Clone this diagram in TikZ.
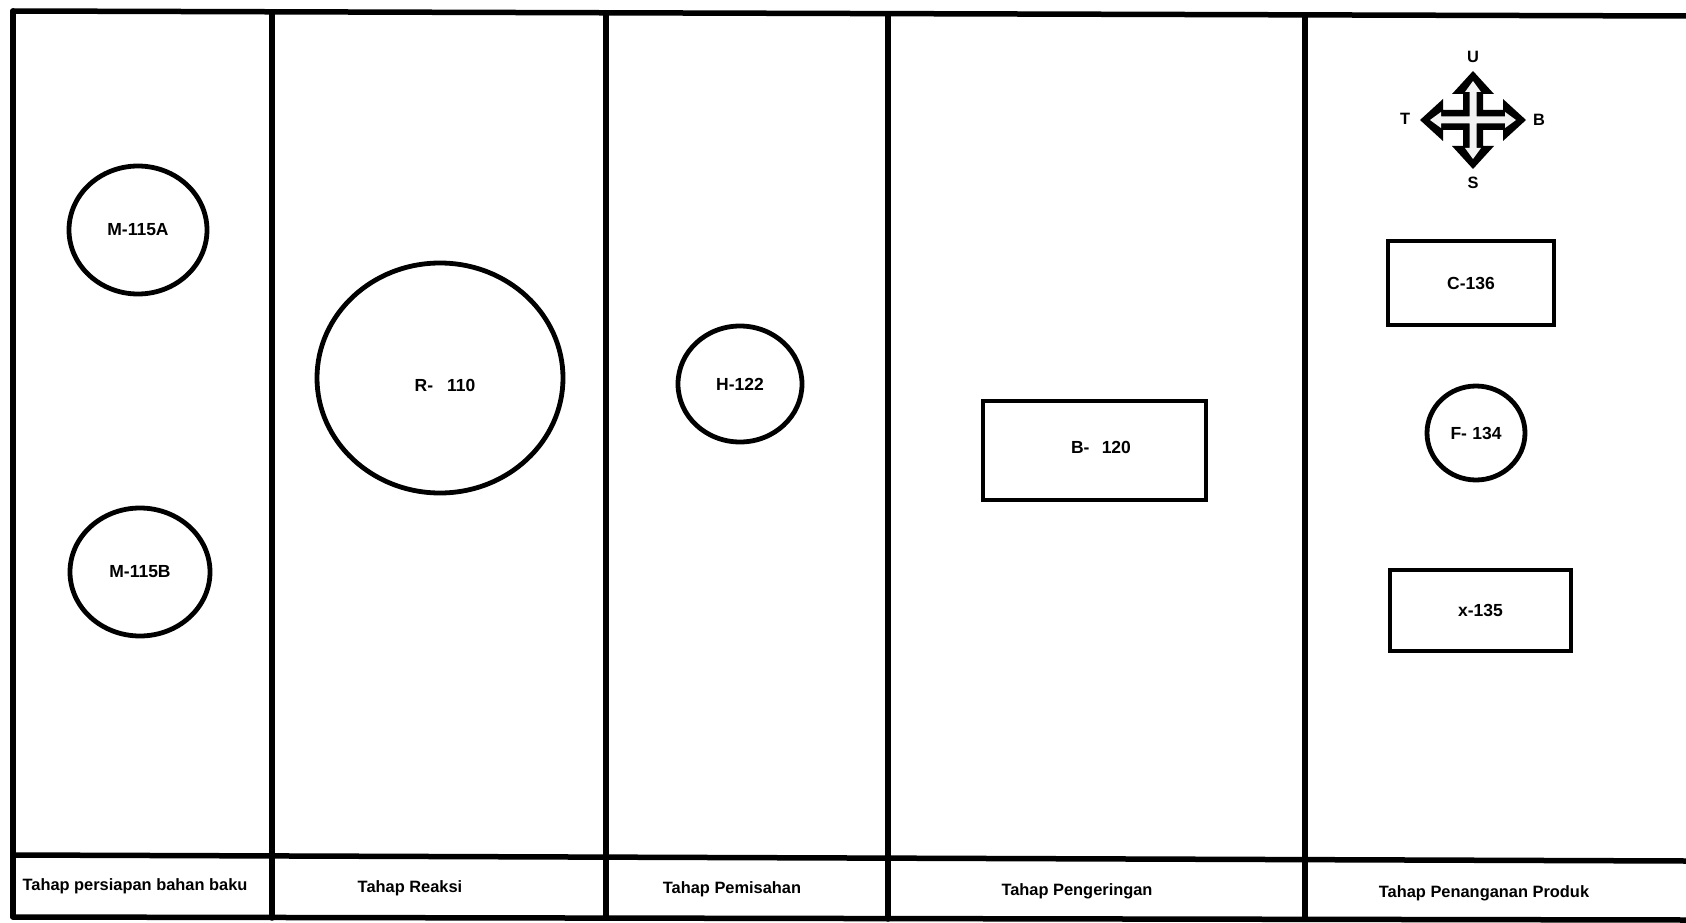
\documentclass[tikz,border=0pt]{standalone}
\usepackage{fontspec}
\setmainfont{Liberation Sans}
\usetikzlibrary{shapes.geometric}
\begin{document}
\begin{tikzpicture}[x=1pt,y=-1pt,
  every node/.style={font=\fontsize{16.4}{18}\selectfont\bfseries},
  eqtext/.style={font=\fontsize{17.5}{19}\selectfont\bfseries},
  frameline/.style={line width=5.5pt, line cap=round},
  vessel/.style={ellipse, draw, line width=4.8pt, inner sep=0pt, eqtext},
  unitbox/.style={rectangle, draw, line width=4.8pt, inner sep=0pt, eqtext},
  lbl/.style={inner sep=1pt}]
\useasboundingbox (0,0) rectangle (1686,923);
\fill[white] (0,0) rectangle (1686,923);
% frame
\draw[frameline] (13,11) -- (1686,16);
\draw[frameline] (13,855) -- (1686,861);
\draw[frameline] (13,917) -- (1686,920);
\draw[frameline] (13,11) -- (13,917);
\draw[frameline] (272,12) -- (272,918);
\draw[frameline] (606,13) -- (606,918);
\draw[frameline] (888,14) -- (888,919);
\draw[frameline] (1305,15) -- (1305,919);
% equipment
\node[vessel, minimum width=138pt, minimum height=128pt] (m115a) at (138,230) {M-115A};
\node[vessel, minimum width=140pt, minimum height=128pt] (m115b) at (140,572) {M-115B};
\node[vessel, minimum width=246pt, minimum height=230pt] (r110) at (440,378) {};
\node[lbl, eqtext] (r110t) at (445,385) {R-\hspace{0.8em}110};
\node[vessel, minimum width=124pt, minimum height=116pt] (h122) at (740,384) {H-122};
\node[unitbox, minimum width=223pt, minimum height=99pt] (b120) at (1094.5,450.5) {};
\node[lbl, eqtext] (b120t) at (1101,447) {B-\hspace{0.7em}120};
\node[unitbox, minimum width=166pt, minimum height=84pt] (c136) at (1471,283) {C-136};
\node[vessel, minimum width=98pt, minimum height=94pt] (f134) at (1476,433) {F-\hspace{0.3em}134};
\node[unitbox, minimum width=181pt, minimum height=81pt] (x135) at (1480.5,610.5) {x-135};
% compass
\begin{scope}[shift={(1473,120)}]
\fill[black] (0,-49) -- (21,-26) -- (10,-26) -- (10,-10) -- (30,-10) -- (30,-21) -- (53,0) -- (30,21) -- (30,10) -- (10,10) -- (10,26) -- (21,26) -- (0,49) -- (-21,26) -- (-10,26) -- (-10,10) -- (-30,10) -- (-30,21) -- (-53,0) -- (-30,-21) -- (-30,-10) -- (-10,-10) -- (-10,-26) -- (-21,-26) -- cycle;
\fill[gray!10] (0,-39) -- (8,-28) -- (3.5,-28) -- (3.5,-3.5) -- (32,-3.5) -- (32,-8) -- (43,0) -- (32,8) -- (32,3.5) -- (3.5,3.5) -- (3.5,28) -- (8,28) -- (0,39) -- (-8,28) -- (-3.5,28) -- (-3.5,3.5) -- (-32,3.5) -- (-32,8) -- (-43,0) -- (-32,-8) -- (-32,-3.5) -- (-3.5,-3.5) -- (-3.5,-28) -- (-8,-28) -- cycle;
\end{scope}
\node[lbl] (cu) at (1473,57) {U};
\node[lbl] (cs) at (1473,183) {S};
\node[lbl] (ct) at (1405,119) {T};
\node[lbl] (cb) at (1539,120) {B};
% stage labels
\node[lbl] (s1) at (135,886) {Tahap persiapan bahan baku};
\node[lbl] (s2) at (410,888) {Tahap Reaksi};
\node[lbl] (s3) at (732,889) {Tahap Pemisahan};
\node[lbl] (s4) at (1077,891) {Tahap Pengeringan};
\node[lbl] (s5) at (1484,893) {Tahap Penanganan Produk};
\end{tikzpicture}
\end{document}
